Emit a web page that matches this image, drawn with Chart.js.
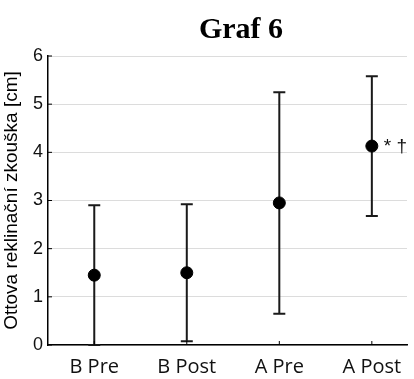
<!DOCTYPE html>
<html>
<head>
<meta charset="utf-8">
<script src="https://cdn.jsdelivr.net/npm/chart.js@4/dist/chart.umd.min.js"></script>
<style>
  html, body { margin: 0; padding: 0; background: #fff; }
  #wrap { width: 414px; height: 379px; position: relative; }
</style>
</head>
<body>
<div id="wrap"><canvas id="grafChart"></canvas></div>
<script>
const groups = ["B Pre", "B Post", "A Pre", "A Post"];
const means = [1.45, 1.5, 2.95, 4.13];
const lower = [0, 0.08, 0.65, 2.68];
const upper = [2.9, 2.92, 5.25, 5.58];
const notes = ["", "", "", "* \u2020"];
const yTicks = [0, 1, 2, 3, 4, 5, 6];

const points = means.map((m, i) => ({ x: i, y: m }));

// error bars, small inward ticks, significance marks, title
const extras = {
  id: "extras",
  beforeDatasetsDraw(chart) {
    const ctx = chart.ctx;
    const xs = chart.scales.x;
    const ys = chart.scales.y;
    ctx.save();
    ctx.strokeStyle = "#1a1a1a";
    ctx.lineWidth = 2;
    groups.forEach((g, i) => {
      const px = xs.getPixelForValue(i);
      const top = ys.getPixelForValue(upper[i]);
      const bot = ys.getPixelForValue(lower[i]);
      ctx.beginPath();
      ctx.moveTo(px, top);
      ctx.lineTo(px, bot);
      ctx.moveTo(px - 6, top);
      ctx.lineTo(px + 6, top);
      ctx.moveTo(px - 6, bot);
      ctx.lineTo(px + 6, bot);
      ctx.stroke();
    });
    // inward tick marks
    ctx.lineWidth = 1;
    ctx.strokeStyle = "#000";
    const area = chart.chartArea;
    ctx.beginPath();
    yTicks.forEach((t) => {
      const py = ys.getPixelForValue(t);
      ctx.moveTo(area.left, py);
      ctx.lineTo(area.left + 4, py);
    });
    groups.forEach((g, i) => {
      const px = xs.getPixelForValue(i);
      ctx.moveTo(px, area.bottom);
      ctx.lineTo(px, area.bottom - 4);
    });
    ctx.stroke();
    ctx.restore();
  },
  afterDatasetsDraw(chart) {
    const ctx = chart.ctx;
    const xs = chart.scales.x;
    const ys = chart.scales.y;
    ctx.save();
    ctx.fillStyle = "#111";
    ctx.font = "19px 'Liberation Sans', Arial, sans-serif";
    ctx.textBaseline = "alphabetic";
    ctx.textAlign = "left";
    notes.forEach((n, i) => {
      if (!n) return;
      ctx.fillText(n, xs.getPixelForValue(i) + 12, ys.getPixelForValue(means[i]) + 6);
    });
    ctx.font = "bold 30px 'Liberation Serif', 'Times New Roman', serif";
    ctx.textAlign = "center";
    ctx.fillStyle = "#000";
    ctx.fillText("Graf 6", 241, 38);
    ctx.restore();
  },
};

new Chart(document.getElementById("grafChart"), {
  type: "scatter",
  data: {
    datasets: [
      {
        data: points,
        backgroundColor: "#000",
        borderColor: "#000",
        pointRadius: 6,
        pointHoverRadius: 6,
      },
    ],
  },
  plugins: [extras],
  options: {
    responsive: true,
    maintainAspectRatio: false,
    animation: false,
    layout: { padding: { top: 56, left: 0, right: 0, bottom: 0 } },
    plugins: {
      legend: { display: false },
      tooltip: { enabled: false },
    },
    scales: {
      x: {
        type: "linear",
        min: -0.5,
        max: 3.38,
        afterBuildTicks: (scale) => {
          scale.ticks = groups.map((g, i) => ({ value: i }));
        },
        afterFit: (scale) => {
          scale.height = 34;
        },
        grid: { display: false, drawTicks: false },
        border: { color: "#000", width: 1.5 },
        ticks: {
          callback: (v) => groups[v],
          padding: 10,
          color: "#111",
          maxRotation: 0,
          font: { family: "Open Sans", size: 20 },
        },
      },
      y: {
        min: 0,
        max: 6,
        afterBuildTicks: (scale) => {
          scale.ticks = yTicks.map((v) => ({ value: v }));
        },
        afterFit: (scale) => {
          scale.width = 48;
        },
        grid: { color: "#dcdcdc", lineWidth: 1, drawTicks: false },
        border: { color: "#000", width: 1.5 },
        ticks: {
          padding: 5,
          color: "#111",
          font: { family: "Liberation Sans", size: 18 },
        },
        title: {
          display: true,
          text: "Ottova reklinační zkouška [cm]",
          color: "#000",
          padding: { top: 0, bottom: 2 },
          font: { family: "Liberation Sans", size: 19 },
        },
      },
    },
  },
});
</script>
</body>
</html>
